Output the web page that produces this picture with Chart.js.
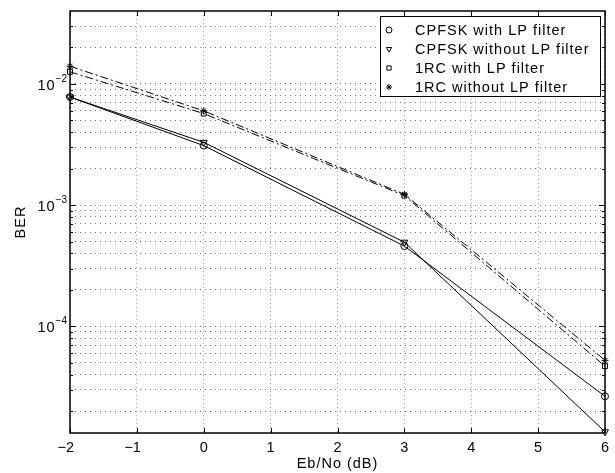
<!DOCTYPE html>
<html>
<head>
<meta charset="utf-8">
<script src="https://cdn.jsdelivr.net/npm/chart.js@4.4.1/dist/chart.umd.min.js"></script>
<style>
  body { margin: 0; background: #fff; }
  #wrap { width: 615px; height: 473px; }
</style>
</head>
<body>
<div id="wrap"><canvas id="berChart" width="615" height="473"></canvas></div>
<script>
// data
const ebno = [-2, 0, 3, 6];
const cpfskLP = [7.8e-3, 3.1e-3, 4.6e-4, 2.65e-5];
const cpfskNoLP = [7.8e-3, 3.3e-3, 4.95e-4, 1.35e-5];
const rcLP = [1.26e-2, 5.7e-3, 1.2e-3, 4.7e-5];
const rcNoLP = [1.40e-2, 6.0e-3, 1.23e-3, 5.25e-5];

const seriesNames = ['CPFSK with LP filter', 'CPFSK without LP filter', '1RC with LP filter', '1RC without LP filter'];
const xTicks = [-2, -1, 0, 1, 2, 3, 4, 5, 6];
const yDecades = [-2, -3, -4];
const yMinor = [1, 2, 3, 4, 5, 6, 7, 8, 9];
const yMin = 1.32e-5;
const yMax = 0.04;

const FONT = '"Liberation Sans", Arial, Helvetica, sans-serif';

// all gridline values in range (decades and minor)
const yGrid = [];
[-5, -4, -3, -2].forEach(function(e) {
    yMinor.forEach(function(m) {
        const v = m * Math.pow(10, e);
        if (v > yMin && v < yMax) yGrid.push(v);
    });
});

function pts(arr) {
    return ebno.map(function(x, i) { return {x: x, y: arr[i]}; });
}

function minusStr(v) {
    return v < 0 ? '\u2212' + Math.abs(v) : String(v);
}

const dashDot = [8, 3, 2, 3];

const berData = {
    datasets: [{
        label: seriesNames[0],
        data: pts(cpfskLP),
        pointStyle: 'circle',
        pointRadius: 3.5,
        pointRotation: 0
    }, {
        label: seriesNames[1],
        data: pts(cpfskNoLP),
        pointStyle: 'triangle',
        pointRadius: 4,
        pointRotation: 180
    }, {
        label: seriesNames[2],
        data: pts(rcLP),
        pointStyle: 'rect',
        pointRadius: 3.5,
        pointRotation: 0,
        borderDash: dashDot
    }, {
        label: seriesNames[3],
        data: pts(rcNoLP),
        pointStyle: 'star',
        pointRadius: 3.5,
        pointRotation: 0,
        borderDash: dashDot
    }].map(function(d) {
        d.borderColor = '#000';
        d.borderWidth = 1;
        d.backgroundColor = 'rgba(0,0,0,0)';
        d.pointBorderColor = '#000';
        d.pointBackgroundColor = 'rgba(0,0,0,0)';
        d.pointBorderWidth = 1;
        d.tension = 0;
        d.clip = false;
        return d;
    })
};

// frame, inner ticks, labels and legend in matlab style
const matlabPlugin = {
    id: 'matlabLook',
    afterDraw: function(chart) {
        const ctx = chart.ctx;
        const a = chart.chartArea;
        const xs = chart.scales.x;
        const ys = chart.scales.y;
        ctx.save();
        ctx.strokeStyle = '#000';
        ctx.fillStyle = '#000';

        // ticks on all four sides
        ctx.lineWidth = 1;
        ctx.beginPath();
        xTicks.forEach(function(v) {
            const px = Math.round(xs.getPixelForValue(v)) + 0.5;
            ctx.moveTo(px, a.bottom); ctx.lineTo(px, a.bottom - 5);
            ctx.moveTo(px, a.top); ctx.lineTo(px, a.top + 5);
        });
        yGrid.forEach(function(v) {
            const py = Math.round(ys.getPixelForValue(v)) + 0.5;
            const isDec = Math.abs(Math.log10(v) - Math.round(Math.log10(v))) < 1e-9;
            const len = isDec ? 6 : 3;
            ctx.moveTo(a.left, py); ctx.lineTo(a.left + len, py);
            ctx.moveTo(a.right, py); ctx.lineTo(a.right - len, py);
        });
        ctx.stroke();

        // box
        ctx.lineWidth = 1.5;
        ctx.strokeRect(a.left, a.top, a.right - a.left, a.bottom - a.top);

        // x tick labels
        ctx.font = '14.5px ' + FONT;
        const digitW = ctx.measureText('0').width;
        ctx.textAlign = 'right';
        ctx.textBaseline = 'alphabetic';
        xTicks.forEach(function(v) {
            const px = xs.getPixelForValue(v);
            ctx.fillText(minusStr(v), px + digitW / 2, a.bottom + 19);
        });

        // y decade labels with superscripts
        yDecades.forEach(function(e) {
            const py = ys.getPixelForValue(Math.pow(10, e));
            ctx.font = '10px ' + FONT;
            const expStr = minusStr(e);
            const expW = ctx.measureText(expStr).width;
            ctx.textAlign = 'right';
            ctx.fillText(expStr, a.left - 3, py - 2);
            ctx.font = '14.5px ' + FONT;
            ctx.letterSpacing = '1px';
            ctx.fillText('10', a.left - 3 - expW, py + 6);
            ctx.letterSpacing = '0px';
        });

        // axis titles
        ctx.font = '14.5px ' + FONT;
        ctx.letterSpacing = '1px';
        ctx.textAlign = 'center';
        ctx.fillText('Eb/No (dB)', (a.left + a.right) / 2, 468);
        ctx.save();
        ctx.translate(25, (a.top + a.bottom) / 2);
        ctx.rotate(-Math.PI / 2);
        ctx.fillText('BER', 0, 0);
        ctx.restore();

        // legend box
        const lx = 380, ly = 16, lw = 220, lh = 80;
        ctx.fillStyle = '#fff';
        ctx.fillRect(lx, ly, lw, lh);
        ctx.lineWidth = 1;
        ctx.strokeRect(lx + 0.5, ly + 0.5, lw, lh);
        ctx.textAlign = 'left';
        chart.data.datasets.forEach(function(d, i) {
            const cy = 30 + i * 19;
            ctx.fillStyle = 'rgba(0,0,0,0)';
            ctx.strokeStyle = '#000';
            ctx.setLineDash([]);
            Chart.helpers.drawPoint(ctx, {
                pointStyle: d.pointStyle,
                radius: 3,
                rotation: d.pointRotation,
                borderWidth: 1
            }, 389, cy);
            ctx.fillStyle = '#000';
            ctx.fillText(d.label, 415, cy + 5);
        });
        ctx.restore();
    }
};

const ctxBer = document.getElementById('berChart').getContext('2d');
const berChart = new Chart(ctxBer, {
    type: 'line',
    data: berData,
    options: {
        responsive: false,
        devicePixelRatio: 1,
        animation: false,
        layout: {
            padding: {left: 70, right: 10, top: 11, bottom: 40}
        },
        scales: {
            x: {
                type: 'linear',
                min: -2,
                max: 6,
                ticks: {display: false, stepSize: 1},
                grid: {color: '#aaa', lineWidth: 1, drawTicks: false},
                border: {display: false, dash: [1, 3]}
            },
            y: {
                type: 'logarithmic',
                min: yMin,
                max: yMax,
                afterBuildTicks: function(axis) {
                    axis.ticks = yGrid.map(function(v) { return {value: v}; });
                },
                ticks: {display: false},
                grid: {color: '#777', lineWidth: 1, drawTicks: false},
                border: {display: false, dash: [1, 4]}
            }
        },
        plugins: {
            legend: {display: false},
            tooltip: {enabled: false}
        }
    },
    plugins: [matlabPlugin]
});
</script>
</body>
</html>
